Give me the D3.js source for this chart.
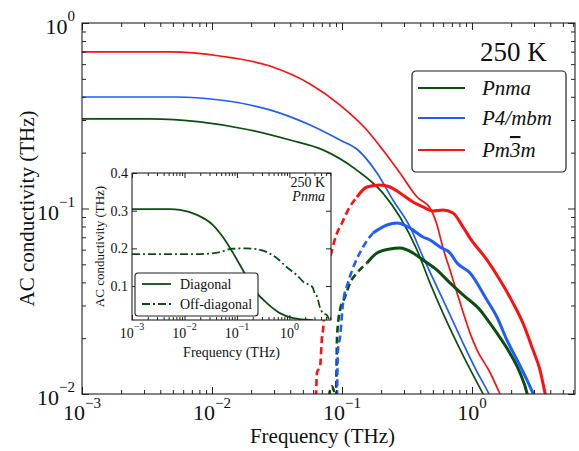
<!DOCTYPE html>
<html><head><meta charset="utf-8">
<script src="https://cdn.jsdelivr.net/npm/d3@7"></script>
<style>body{margin:0;background:#fff}svg{display:block}</style>
</head><body><svg id="c" width="579" height="451"></svg>
<script>
// ---------- data ----------
const xDomain = [1e-3, 6.2];
const yDomain = [1e-2, 1];
const xMajorTicks = [1e-3, 1e-2, 1e-1, 1];
const xMajorExps = ["\u22123", "\u22122", "\u22121", "0"];
const yMajorTicks = [1e-2, 1e-1, 1];
const yMajorExps = ["\u22122", "\u22121", "0"];
const phaseNames = ["Pnma", "P4/mbm", "Pm3m"];
const phaseColors = ["#0b4f10", "#1f5cff", "#ff1010"];
const temperatureLabel = "250 K";

// thin curves  [frequency THz, conductivity THz]
const pnmaThin = [[0.001,0.304],[0.0033,0.304],[0.0081,0.293],[0.0196,0.265],[0.0398,0.234],[0.0714,0.207],[0.130,0.161],[0.2065,0.121],[0.279,0.090],[0.378,0.0597],[0.475,0.0397],[0.598,0.0273],[0.767,0.0188],[0.966,0.0136],[1.216,0.0100],[1.374,0.0084]];
const p4mbmThin = [[0.001,0.399],[0.0052,0.399],[0.0115,0.3845],[0.0279,0.340],[0.0568,0.2818],[0.0966,0.2339],[0.1327,0.2067],[0.1858,0.1553],[0.2466,0.1111],[0.3334,0.0795],[0.4198,0.0548],[0.5383,0.0377],[0.6776,0.0267],[0.8531,0.0188],[1.074,0.0135],[1.352,0.0100],[1.531,0.0083]];
const pm3mThin = [[0.001,0.698],[0.00475,0.698],[0.0115,0.664],[0.0279,0.586],[0.0568,0.469],[0.0966,0.361],[0.1503,0.2716],[0.2065,0.2067],[0.2793,0.1553],[0.3776,0.1153],[0.4753,0.1006],[0.5383,0.0815],[0.5984,0.0612],[0.6776,0.0466],[0.7674,0.0350],[0.8531,0.0277],[0.9661,0.0213],[1.092,0.0173],[1.374,0.0131],[1.641,0.0100],[1.795,0.0087]];

// thick curves: low-frequency (dashed) and high-frequency (solid) parts
const pnmaLow = [[0.0794,0.0096],[0.0809,0.0105],[0.0838,0.0110],[0.0867,0.0104],[0.0899,0.0096],[0.0916,0.0203],[0.0966,0.0284],[0.1054,0.0333],[0.1153,0.0397],[0.1303,0.0449],[0.1556,0.0508]];
const pnmaHigh = [[0.1556,0.0508],[0.1858,0.0576],[0.2339,0.0605],[0.2793,0.0612],[0.3516,0.0576],[0.4198,0.0528],[0.5383,0.0466],[0.6776,0.0397],[0.8531,0.0342],[1.153,0.0284],[1.374,0.0241],[1.556,0.0213],[1.959,0.0166],[2.339,0.0130],[2.649,0.0101],[2.70,0.0095]];
const p4mbmLow = [[0.0916,0.0096],[0.0931,0.0173],[0.0966,0.0203],[0.1019,0.0310],[0.1112,0.0397],[0.1259,0.0508],[0.1452,0.0620],[0.173,0.0738]];
const p4mbmHigh = [[0.173,0.0738],[0.2218,0.0815],[0.2649,0.0835],[0.3334,0.0785],[0.4198,0.0702],[0.4753,0.0676],[0.5675,0.0620],[0.6776,0.0576],[0.7674,0.0508],[0.9661,0.0449],[1.303,0.0321],[1.556,0.0260],[1.858,0.0195],[2.218,0.0153],[2.649,0.0119],[2.944,0.0101],[3.05,0.0095]];
const pm3mLow = [[0.0631,0.0096],[0.0643,0.0131],[0.0678,0.0140],[0.0702,0.0203],[0.0714,0.0221],[0.0740,0.0321],[0.078,0.0466],[0.0838,0.0597],[0.0916,0.0738],[0.1,0.0835],[0.1112,0.0981],[0.1303,0.1153]];
const pm3mHigh = [[0.1303,0.1153],[0.1556,0.1306],[0.196,0.1339],[0.2339,0.1306],[0.2793,0.1212],[0.3516,0.1084],[0.4198,0.1019],[0.501,0.0969],[0.5984,0.0981],[0.7145,0.0946],[0.8531,0.0795],[0.9661,0.0693],[1.303,0.0528],[1.641,0.0412],[2.065,0.0310],[2.466,0.0241],[2.944,0.0173],[3.334,0.0135],[3.648,0.0101],[3.72,0.0095]];

// inset (Pnma, 250 K)
const insetYDomain = [0.01, 0.4];
const insetYTicks = [0.1, 0.2, 0.3, 0.4];
const insetSeriesNames = ["Diagonal", "Off-diagonal"];
const insetDiagonal = [[0.001,0.304],[0.0053,0.304],[0.0082,0.302],[0.0173,0.289],[0.0349,0.262],[0.054,0.230],[0.084,0.188],[0.130,0.142],[0.177,0.108],[0.240,0.0814],[0.372,0.0549],[0.659,0.0283],[1.166,0.015],[2.8,0.0098]];
const insetOffDiagonal = [[0.001,0.185],[0.0197,0.185],[0.0474,0.190],[0.080,0.199],[0.155,0.200],[0.240,0.198],[0.372,0.190],[0.578,0.174],[0.895,0.150],[1.39,0.129],[1.97,0.108],[2.46,0.103],[2.8,0.095],[3.06,0.079],[3.34,0.073],[3.81,0.044],[4.35,0.028],[5.18,0.023],[5.65,0.0125]];

// ---------- drawing ----------
const FONT = "'Liberation Serif', 'Times New Roman', serif";
const svg = d3.select("#c");
svg.append("rect").attr("width",579).attr("height",451).attr("fill","#fff");
const M = {l:82, t:23, r:575, b:394};
const W = M.r - M.l, H = M.b - M.t;
const x = d3.scaleLog().domain(xDomain).range([0, W]);
const y = d3.scaleLog().domain(yDomain).range([H, 0]);
const g = svg.append("g").attr("transform", `translate(${M.l},${M.t})`);
svg.append("defs").append("clipPath").attr("id","mainclip").append("rect").attr("width",W).attr("height",H);

const line = d3.line().x(d=>x(d[0])).y(d=>y(d[1])).curve(d3.curveMonotoneX);
const plot = g.append("g").attr("clip-path","url(#mainclip)");
const thin = [pnmaThin, p4mbmThin, pm3mThin];
const lows = [pnmaLow, p4mbmLow, pm3mLow];
const highs = [pnmaHigh, p4mbmHigh, pm3mHigh];
[0,1,2].forEach(i=>{
  plot.append("path").datum(thin[i]).attr("d",line).attr("fill","none").attr("stroke",phaseColors[i]).attr("stroke-width",1.7);
});
[0,1,2].forEach(i=>{
  plot.append("path").datum(lows[i]).attr("d",line).attr("fill","none").attr("stroke",phaseColors[i]).attr("stroke-width",2.6).attr("stroke-dasharray","7,4");
  plot.append("path").datum(highs[i]).attr("d",line).attr("fill","none").attr("stroke",phaseColors[i]).attr("stroke-width",3);
});

function minorTicks(dom){
  const out=[];
  for(let d=-4; d<=1; d++) for(let k=2;k<=9;k++){const v=k*Math.pow(10,d); if(v>dom[0]*1.0001 && v<dom[1]*0.9999) out.push(v);}
  return out;
}
function drawFrame(gg, xs, ys, w, h, xMaj, xMin, yMaj, yMin, majL, minL){
  const a = gg.append("g");
  a.append("g").attr("transform",`translate(0,${h})`).call(d3.axisBottom(xs).tickValues(xMaj).tickSize(-majL).tickFormat(""));
  a.append("g").attr("transform",`translate(0,${h})`).call(d3.axisBottom(xs).tickValues(xMin).tickSize(-minL).tickFormat(""));
  a.append("g").call(d3.axisTop(xs).tickValues(xMaj).tickSize(-majL).tickFormat(""));
  a.append("g").call(d3.axisTop(xs).tickValues(xMin).tickSize(-minL).tickFormat(""));
  a.append("g").call(d3.axisLeft(ys).tickValues(yMaj).tickSize(-majL).tickFormat(""));
  a.append("g").attr("transform",`translate(${w},0)`).call(d3.axisRight(ys).tickValues(yMaj).tickSize(-majL).tickFormat(""));
  if(yMin.length){
    a.append("g").call(d3.axisLeft(ys).tickValues(yMin).tickSize(-minL).tickFormat(""));
    a.append("g").attr("transform",`translate(${w},0)`).call(d3.axisRight(ys).tickValues(yMin).tickSize(-minL).tickFormat(""));
  }
  a.selectAll(".domain").remove();
  a.selectAll("line").attr("stroke","#222").attr("stroke-width",1);
  a.append("rect").attr("width",w).attr("height",h).attr("fill","none").attr("stroke","#222").attr("stroke-width",1.1);
}
function txt(gg){ return gg.append("text").attr("font-family", FONT).attr("fill","#111"); }
function supLabel(gg, px, py, exp, anchor, size, supSize, dy){
  const t = txt(gg).attr("x",px).attr("y",py).attr("text-anchor",anchor).attr("font-size",size);
  t.append("tspan").text("10");
  t.append("tspan").attr("dy",dy).attr("font-size",supSize).text(exp);
}

// ---------- inset ----------
const I = {l:132, t:173, r:331, b:320};
const iw = I.r - I.l, ih = I.b - I.t;
const ix = d3.scaleLog().domain(xDomain).range([0, iw]);
const iy = d3.scaleLinear().domain(insetYDomain).range([ih, 0]);
const ig = svg.append("g").attr("transform",`translate(${I.l},${I.t})`);
ig.append("rect").attr("width",iw).attr("height",ih).attr("fill","#fff");
svg.select("defs").append("clipPath").attr("id","insclip").append("rect").attr("width",iw).attr("height",ih);
const iline = d3.line().x(d=>ix(d[0])).y(d=>iy(d[1])).curve(d3.curveMonotoneX);
const ip = ig.append("g").attr("clip-path","url(#insclip)");
ip.append("path").datum(insetDiagonal).attr("d",iline).attr("fill","none").attr("stroke",phaseColors[0]).attr("stroke-width",1.8);
ip.append("path").datum(insetOffDiagonal).attr("d",iline).attr("fill","none").attr("stroke",phaseColors[0]).attr("stroke-width",1.8).attr("stroke-dasharray","8,3,2,3");
drawFrame(ig, ix, iy, iw, ih, xMajorTicks, minorTicks(xDomain), insetYTicks, [], 5, 3);
xMajorTicks.forEach((v,i)=>supLabel(ig, ix(v), ih+18, xMajorExps[i], "middle", 14, 10, -8));
insetYTicks.forEach(v=>txt(ig).attr("x",-4).attr("y",iy(v)+5).attr("text-anchor","end").attr("font-size",14).text(v.toFixed(1)));
txt(ig).attr("x",iw/2).attr("y",ih+37).attr("text-anchor","middle").attr("font-size",14).text("Frequency (THz)");
txt(ig).attr("transform",`translate(-28,${ih/2}) rotate(-90)`).attr("text-anchor","middle").attr("font-size",13).text("AC conductivity (THz)");
txt(ig).attr("x",iw-6).attr("y",14).attr("text-anchor","end").attr("font-size",14).text(temperatureLabel);
txt(ig).attr("x",iw-6).attr("y",28).attr("text-anchor","end").attr("font-size",14).attr("font-style","italic").text(phaseNames[0]);
const il = ig.append("g").attr("transform","translate(3,100)");
il.append("rect").attr("width",123).attr("height",43).attr("rx",3).attr("fill","#fff").attr("stroke","#222").attr("stroke-width",1.1);
insetSeriesNames.forEach((n,i)=>{
  const yy = 11 + i*20;
  il.append("line").attr("x1",7).attr("x2",36).attr("y1",yy).attr("y2",yy).attr("stroke",phaseColors[0]).attr("stroke-width",1.8).attr("stroke-dasharray", i?"8,3,2,3":null);
  txt(il).attr("x",45).attr("y",yy+5).attr("font-size",14).text(n);
});

// ---------- main axes ----------
drawFrame(g, x, y, W, H, xMajorTicks, minorTicks(xDomain), yMajorTicks, minorTicks(yDomain), 7, 4);
xMajorTicks.forEach((v,i)=>supLabel(g, x(v), H+26, xMajorExps[i], "middle", 22, 15, -12));
yMajorTicks.forEach((v,i)=>supLabel(g, -7, y(v)+11, yMajorExps[i], "end", 22, 15, -13));
txt(g).attr("x",W/2-6).attr("y",H+49).attr("text-anchor","middle").attr("font-size",21).text("Frequency (THz)");
txt(g).attr("transform",`translate(-48,${H/2}) rotate(-90)`).attr("text-anchor","middle").attr("font-size",21).text("AC conductivity (THz)");

// legend
txt(svg).attr("x",480).attr("y",61).attr("font-size",27).text(temperatureLabel);
const lg = svg.append("g").attr("transform","translate(412,71)");
lg.append("rect").attr("width",154).attr("height",101).attr("rx",4).attr("fill","#fff").attr("stroke","#222").attr("stroke-width",1.2);
phaseNames.forEach((n,i)=>{
  const yy = [17,47,79][i];
  lg.append("line").attr("x1",6).attr("x2",53).attr("y1",yy).attr("y2",yy).attr("stroke",phaseColors[i]).attr("stroke-width",2);
  const t = txt(lg).attr("x",70).attr("y",yy+7).attr("font-size",21).attr("font-style","italic");
  if(n==="Pm3m"){
    t.append("tspan").text("Pm");
    t.append("tspan").attr("text-decoration","overline").text("3");
    t.append("tspan").text("m");
  } else t.text(n);
});
</script></body></html>
